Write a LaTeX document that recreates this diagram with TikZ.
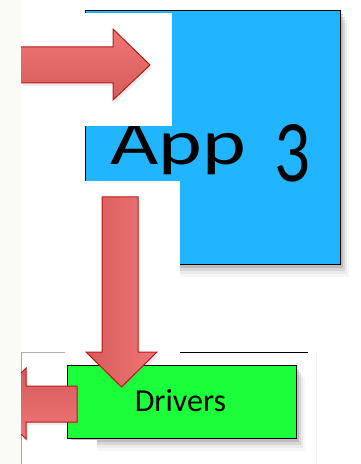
\documentclass[tikz,border=0pt]{standalone}
\usepackage{fontspec}
\setmainfont{Carlito}
\usetikzlibrary{shadows}
\definecolor{appblue}{RGB}{33,181,255}
\definecolor{drvgreen}{RGB}{26,255,58}
\definecolor{arrowline}{RGB}{184,24,24}
\definecolor{arrowlight}{RGB}{240,118,118}
\definecolor{arrowdark}{RGB}{214,92,92}
\definecolor{pagegray}{RGB}{250,250,247}
\tikzset{
  softshadow/.style={
    drop shadow={shadow xshift=2bp, shadow yshift=-3bp, opacity=.30},
    drop shadow={shadow xshift=4bp, shadow yshift=-6bp, opacity=.18},
    drop shadow={shadow xshift=6bp, shadow yshift=-9bp, opacity=.10},
    drop shadow={shadow xshift=8bp, shadow yshift=-12bp, opacity=.06}},
  layerbox/.style={draw=black, line width=1.3bp, inner sep=0pt, anchor=north west, softshadow},
  blockarrow/.style={draw=arrowline, line width=1bp, line join=miter,
    drop shadow={shadow xshift=2bp, shadow yshift=-3bp, opacity=.15}},
}
\begin{document}
\begin{tikzpicture}[x=1bp, y=-1bp]
\useasboundingbox (0,0) rectangle (360,464);
\fill [pagegray] (0,0) rectangle (360,464);
\fill [white] (21,0) rectangle (360,464);
\node[layerbox, fill=appblue, minimum width=255bp, minimum height=254bp] (app) at (85,10) {};
\node[anchor=base west, inner sep=0pt, font=\fontsize{64bp}{70bp}\selectfont] (applabel) at (110,165) {\scalebox{1.3}[1]{App}};
\node[anchor=south west, inner sep=0pt, font=\fontsize{64bp}{70bp}\selectfont] (appnumber) at (274,182) {\resizebox{36bp}{57bp}{3}};
\fill [white] (21,13) rectangle (172,126);
\draw [blockarrow, top color=arrowlight, bottom color=arrowdark]
  (21,47) -- (113,47) -- (113,29) -- (150,65) -- (113,100) -- (113,83) -- (21,83);
\fill [white] (21,181) rectangle (180,352);
\draw [gray!60, line width=.6bp] (21,352) -- (65,352);
\draw [black, line width=1bp] (180,352) -- (308,352);
\draw [gray!12, line width=.6bp] (316,352) -- (316,464);
\node[layerbox, fill=drvgreen, minimum width=229bp, minimum height=73bp] (drivers) at (67,365) {};
\node[anchor=base, font=\fontsize{32bp}{36bp}\selectfont] (driverslabel) at (180.5,411) {Drivers};
\fill [white] (21,440) rectangle (97,464);
\draw [blue!40, line width=.6bp] (21,352) -- (21,464);
\draw [blockarrow, left color=arrowdark, right color=arrowlight]
  (102,197) -- (138,197) -- (138,352) -- (157,352) -- (121.5,387) -- (86,352) -- (102,352) -- cycle;
\draw [blockarrow, top color=arrowdark, bottom color=arrowlight]
  (21,373) -- (26,368) -- (26,386) -- (77,386) -- (77,422) -- (26,422) -- (26,439) -- (21,434);
\end{tikzpicture}
\end{document}
